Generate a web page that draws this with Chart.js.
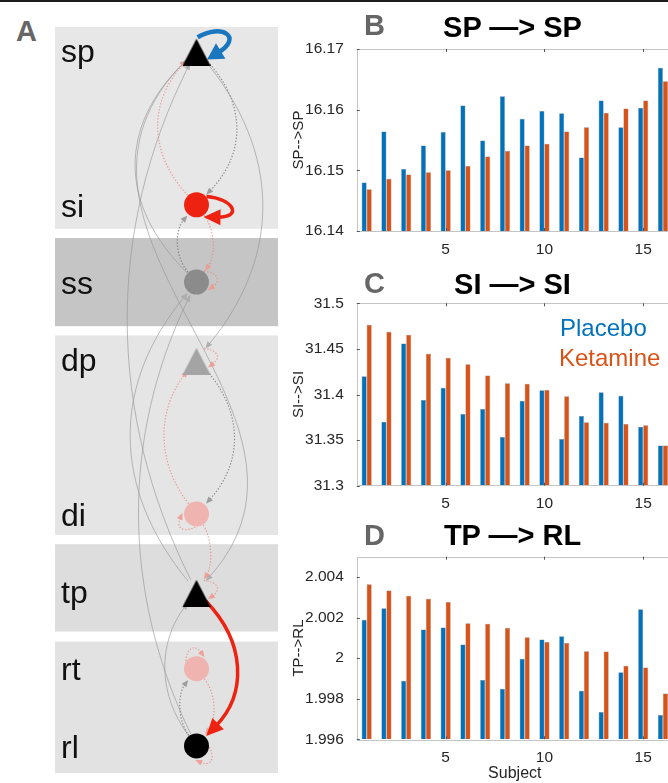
<!DOCTYPE html>
<html>
<head>
<meta charset="utf-8">
<script src="https://cdn.jsdelivr.net/npm/chart.js@4.4.0/dist/chart.umd.min.js"></script>
<style>
  html, body { margin: 0; padding: 0; }
  body {
    width: 668px; height: 783px; overflow: hidden; position: relative; background: #fff;
    font-family: 'Liberation Sans', Arial, Helvetica, sans-serif;
  }
  canvas { display: block; }
  .topRule { position: absolute; left: 0; top: 0; width: 668px; height: 2px; background: #1c1c1c; }
  .box { position: absolute; }
  .txt { position: absolute; line-height: 1; white-space: nowrap; }
  .letter { font-size: 29px; font-weight: bold; color: #666666; }
  .title { font-size: 29px; font-weight: bold; color: #000; transform: translateX(-50%); }
  .legend { font-size: 24px; }
</style>
</head>
<body>
<div class="topRule"></div>

<div class="box" style="left:55px;top:17px"><canvas id="diagram" width="223" height="760"></canvas></div>
<div class="box" style="left:290px;top:30px"><canvas id="chartSP" width="400" height="230"></canvas></div>
<div class="box" style="left:290px;top:285px"><canvas id="chartSI" width="400" height="230"></canvas></div>
<div class="box" style="left:290px;top:535px"><canvas id="chartTP" width="400" height="248"></canvas></div>

<div class="txt letter" style="left:16px;top:16.5px">A</div>
<div class="txt letter" style="left:364px;top:11.2px">B</div>
<div class="txt letter" style="left:364px;top:269.2px">C</div>
<div class="txt letter" style="left:364px;top:521.2px">D</div>
<div class="txt title" style="left:512.5px;top:13.2px">SP —&gt; SP</div>
<div class="txt title" style="left:512.5px;top:270.2px">SI —&gt; SI</div>
<div class="txt title" style="left:512.5px;top:521.2px">TP —&gt; RL</div>
<div class="txt legend" style="left:560px;top:316px;color:#0072BD">Placebo</div>
<div class="txt legend" style="left:559px;top:346px;color:#D95319">Ketamine</div>

<script>
// ---------- Panel A: the network ----------
const nodeNames = ['sp', 'si', 'ss', 'dp', 'di', 'tp', 'rt', 'rl']
const nodeLevel = [0, 2, 3, 4, 6, 7, 8, 9]
const nodeColors = ['#000000', '#ee2211', '#8b8b8b', '#a4a4a4', '#efb3b0', '#000000', '#efb3b0', '#000000']
const nodeShapes = ['triangle', 'circle', 'circle', 'triangle', 'circle', 'triangle', 'circle', 'circle']

// grey bands behind the layers (in level units)
const bandTop = [-0.3, 2.43, 3.69, 6.39, 7.65]
const bandBottom = [2.31, 3.57, 6.27, 7.52, 9.35]
const bandColors = ['#e7e7e7', '#c5c5c5', '#e5e5e5', '#dddddd', '#e2e2e2']

// connections. For self connections bendA = direction (deg) and bendB = loop size
const edgeFrom = ['sp', 'ss', 'tp', 'sp', 'tp', 'rl', 'rl',
  'sp', 'ss', 'dp', 'rl',
  'si', 'si', 'di', 'di', 'rt',
  'ss', 'dp', 'di', 'tp', 'rt', 'rl',
  'sp', 'si', 'tp']
const edgeTo = ['tp', 'sp', 'sp', 'dp', 'ss', 'ss', 'tp',
  'si', 'si', 'di', 'rt',
  'sp', 'ss', 'dp', 'tp', 'rl',
  'ss', 'dp', 'di', 'tp', 'rt', 'rl',
  'sp', 'si', 'rl']
const edgeBendA = [-184, -78, -90, 85, -85, -75, -39,
  50, -22, 47, -19,
  -48, 19, -40, 16, 20,
  10, 10, -140, 10, 100, -50,
  22, -10, 50]
const edgeBendB = [161, -78, -90, 85, -85, -75, -39,
  50, -22, 47, -19,
  -48, 19, -40, 16, 20,
  11, 11, 11, 11, 11, 11,
  30, 30, 50]
const edgeKind = ['solid', 'solid', 'solid', 'solid', 'solid', 'solid', 'solid',
  'dotGray', 'dotGray', 'dotGray', 'dotGray',
  'dotPink', 'dotPink', 'dotPink', 'dotPink', 'dotPink',
  'dotPink', 'dotPink', 'dotPink', 'dotPink', 'dotPink', 'dotPink',
  'blue', 'red', 'red']

// ---------- Panels B-D: bars per subject ----------
const subjects = ['1', '2', '3', '4', '5', '6', '7', '8', '9', '10', '11', '12', '13', '14', '15', '16']
const xTickValues = [5, 10, 15]

const spPlacebo = [16.1480, 16.1564, 16.1502, 16.1541, 16.1563, 16.1607, 16.1549, 16.1622,
  16.1585, 16.1598, 16.1594, 16.1521, 16.1615, 16.1571, 16.1603, 16.1669]
const spKetamine = [16.1469, 16.1486, 16.1493, 16.1497, 16.1500, 16.1507, 16.1523, 16.1532,
  16.1541, 16.1544, 16.1564, 16.1571, 16.1595, 16.1602, 16.1615, 16.1647]
const spTicks = [16.14, 16.15, 16.16, 16.17]

const siPlacebo = [31.420, 31.370, 31.456, 31.394, 31.4075, 31.3786, 31.3841, 31.3534,
  31.3932, 31.4046, 31.3512, 31.3764, 31.4024, 31.3987, 31.3647, 31.3442]
const siKetamine = [31.4766, 31.4689, 31.4656, 31.4448, 31.4404, 31.4331, 31.4207, 31.4122,
  31.4119, 31.4049, 31.398, 31.3695, 31.3691, 31.3676, 31.3662, 31.3442]
const siTicks = [31.3, 31.35, 31.4, 31.45, 31.5]

const tpPlacebo = [2.00189, 2.00246, 1.99889, 2.00141, 2.00151, 2.00067, 1.99892, 1.99849,
  1.99997, 2.00092, 2.00108, 1.99839, 1.99734, 1.99931, 2.00241, 1.99720]
const tpKetamine = [2.00364, 2.00334, 2.00307, 2.00293, 2.00277, 2.00172, 2.00169, 2.00149,
  2.00103, 2.00079, 2.00075, 2.00034, 2.00033, 1.99962, 1.99954, 1.99826]
const tpTicks = [1.996, 1.998, 2, 2.002, 2.004]

const fontFamily = "'Liberation Sans', Arial, Helvetica, sans-serif"
Chart.defaults.font.family = fontFamily
const textColor = '#262626'
const blue = '#0072BD'
const orange = '#D95319'

// ---------- diagram drawing ----------
const nodeR = 13

const edgeStyles = {
  solid: { color: 'rgba(150,150,150,0.65)', head: 'rgba(170,170,170,0.9)', width: 1, dash: [], len: 7, half: 3, spread: 43 },
  dotGray: { color: 'rgba(120,120,120,0.85)', head: 'rgba(150,150,150,0.9)', width: 1.2, dash: [1.3, 1.8], len: 7, half: 3, spread: 43 },
  dotPink: { color: 'rgba(238,125,115,0.75)', head: 'rgba(240,150,140,0.85)', width: 1.2, dash: [1.3, 1.8], len: 7, half: 3, spread: 45 },
  blue: { color: '#1a77bf', head: '#1a77bf', width: 4.5, dash: [], len: 16, half: 9, spread: 63 },
  red: { color: '#ee2211', head: '#ee2211', width: 3.5, dash: [], len: 17, half: 8, spread: 50 },
}

function triangleImage(color) {
  // a little empty room on top so the triangle sits 2px lower than the point
  const c = document.createElement('canvas')
  c.width = 28
  c.height = 31
  const g = c.getContext('2d')
  g.fillStyle = color
  g.beginPath()
  g.moveTo(14, 4)
  g.lineTo(28, 31)
  g.lineTo(0, 31)
  g.closePath()
  g.fill()
  return c
}

function unitTo(from, to) {
  const dx = to[0] - from[0]
  const dy = to[1] - from[1]
  const d = Math.hypot(dx, dy) || 1
  return [dx / d, dy / d]
}

function drawArrow(ctx, p0, c1, c2, tip, st) {
  const u = unitTo(c2, tip)
  const end = [tip[0] - u[0] * st.len * 0.8, tip[1] - u[1] * st.len * 0.8]
  ctx.strokeStyle = st.color
  ctx.lineWidth = st.width
  ctx.setLineDash(st.dash)
  ctx.beginPath()
  ctx.moveTo(p0[0], p0[1])
  ctx.bezierCurveTo(c1[0], c1[1], c2[0], c2[1], end[0], end[1])
  ctx.stroke()
  ctx.setLineDash([])
  // arrow head
  const bx = tip[0] - u[0] * st.len
  const by = tip[1] - u[1] * st.len
  ctx.fillStyle = st.head
  ctx.beginPath()
  ctx.moveTo(tip[0], tip[1])
  ctx.lineTo(bx - u[1] * st.half, by + u[0] * st.half)
  ctx.lineTo(bx + u[1] * st.half, by - u[0] * st.half)
  ctx.closePath()
  ctx.fill()
}

const diagramPlugin = {
  id: 'diagram',
  beforeDraw(chart) {
    const { ctx, chartArea: a, scales: { y } } = chart
    bandTop.forEach((t, i) => {
      const y0 = y.getPixelForValue(t)
      const y1 = y.getPixelForValue(bandBottom[i])
      ctx.fillStyle = bandColors[i]
      ctx.fillRect(a.left, y0, a.right - a.left, y1 - y0)
    })
  },
  beforeDatasetsDraw(chart) {
    const { ctx, scales: { x, y } } = chart
    const pos = (name) => {
      const i = nodeNames.indexOf(name)
      return [x.getPixelForValue(0), y.getPixelForValue(nodeLevel[i])]
    }
    ctx.save()
    edgeFrom.forEach((f, i) => {
      const st = edgeStyles[edgeKind[i]]
      const a = pos(f)
      const b = pos(edgeTo[i])
      if (f === edgeTo[i]) {
        // self connection loop
        const rad = Math.PI / 180
        const dir = edgeBendA[i] * rad
        const size = edgeBendB[i]
        const s = st.spread * rad
        const at = (ang, r) => [a[0] + Math.cos(ang) * r, a[1] - Math.sin(ang) * r]
        drawArrow(ctx, at(dir + s, nodeR), at(dir + s * 0.4, nodeR + size * 0.8),
          at(dir - s * 0.1, nodeR + size * 1.2), at(dir - s, nodeR + 1), st)
      } else {
        const dy = b[1] - a[1]
        const c1 = [a[0] + edgeBendA[i], a[1] + dy / 3]
        const c2 = [b[0] + edgeBendB[i], a[1] + (2 * dy) / 3]
        const u0 = unitTo(a, c1)
        const u1 = unitTo(b, c2)
        const p0 = [a[0] + u0[0] * nodeR, a[1] + u0[1] * nodeR]
        const tip = [b[0] + u1[0] * (nodeR + 1), b[1] + u1[1] * (nodeR + 1)]
        drawArrow(ctx, p0, c1, c2, tip, st)
      }
    })
    ctx.restore()
  },
}

new Chart(document.getElementById('diagram'), {
  type: 'scatter',
  data: {
    datasets: [
      {
        data: nodeLevel.map((l) => ({ x: 0, y: l })),
        pointStyle: nodeShapes.map((s, i) => (s === 'triangle' ? triangleImage(nodeColors[i]) : 'circle')),
        pointBackgroundColor: nodeColors,
        pointBorderWidth: 0,
        pointRadius: 12.5,
        clip: false,
      },
    ],
  },
  options: {
    responsive: false,
    animation: false,
    events: [],
    layout: { padding: { top: 10, bottom: 4, left: 0, right: 0 }, autoPadding: false },
    plugins: { legend: { display: false }, tooltip: { enabled: false } },
    scales: {
      x: { type: 'linear', min: -141.5, max: 81.5, display: false },
      y: {
        type: 'linear',
        reverse: true,
        min: -0.3,
        max: 9.35,
        grid: { display: false },
        border: { display: false },
        afterBuildTicks: (s) => {
          s.ticks = nodeLevel.map((v) => ({ value: v }))
        },
        ticks: {
          mirror: true,
          padding: 6,
          labelOffset: 3,
          color: '#111111',
          font: { size: 32, weight: '300' },
          callback: (v, i) => nodeNames[i],
        },
        afterFit: (s) => {
          s.width = 0
          s.paddingTop = 0
          s.paddingBottom = 0
        },
      },
    },
  },
  plugins: [diagramPlugin],
})

// ---------- bar charts ----------
// box + inward ticks, like the matlab axes
const matlabAxes = {
  id: 'matlabAxes',
  afterDatasetsDraw(chart) {
    const { ctx, chartArea: a, scales: { x, y } } = chart
    ctx.save()
    ctx.lineWidth = 1
    ctx.strokeStyle = '#c4c4c4'
    ctx.strokeRect(Math.round(a.left) + 0.5, Math.round(a.top) + 0.5,
      Math.round(a.right - a.left), Math.round(a.bottom - a.top))
    ctx.strokeStyle = '#555555'
    ctx.beginPath()
    y.ticks.forEach((t) => {
      const py = Math.round(y.getPixelForValue(t.value)) + 0.5
      ctx.moveTo(a.left, py)
      ctx.lineTo(a.left + 3, py)
    })
    xTickValues.forEach((v) => {
      const px = Math.round(x.getPixelForValue(v - 1)) + 0.5
      ctx.moveTo(px, a.bottom)
      ctx.lineTo(px, a.bottom - 3)
      ctx.moveTo(px, a.top)
      ctx.lineTo(px, a.top + 3)
    })
    ctx.stroke()
    ctx.restore()
  },
}

function barChart(id, placebo, ketamine, yMin, yMax, yTicks, yTitle, padTop, padBottom, xHeight, xTitle) {
  const barStyle = {
    base: yMin,
    categoryPercentage: 0.51,
    barPercentage: 1,
    borderWidth: 0.5,
    borderColor: 'rgba(35,35,35,0.55)',
  }
  return new Chart(document.getElementById(id), {
    type: 'bar',
    data: {
      labels: subjects,
      datasets: [
        { label: 'Placebo', data: placebo, backgroundColor: blue, ...barStyle },
        { label: 'Ketamine', data: ketamine, backgroundColor: orange, ...barStyle },
      ],
    },
    options: {
      responsive: false,
      animation: false,
      events: [],
      layout: { padding: { top: padTop, bottom: padBottom, left: 0, right: 17.2 } },
      plugins: { legend: { display: false }, tooltip: { enabled: false } },
      scales: {
        x: {
          grid: { display: false },
          border: { display: false },
          ticks: {
            autoSkip: false,
            maxRotation: 0,
            padding: 1,
            color: textColor,
            font: { size: 15.5 },
            callback: (v, i) => (xTickValues.includes(i + 1) ? subjects[i] : ''),
          },
          title: { display: !!xTitle, text: xTitle, padding: 0, color: textColor, font: { size: 16 } },
          afterFit: (s) => {
            s.height = xHeight
            s.paddingLeft = 0
            s.paddingRight = 0
          },
        },
        y: {
          min: yMin,
          max: yMax,
          grid: { display: false },
          border: { display: false },
          afterBuildTicks: (s) => {
            s.ticks = yTicks.map((v) => ({ value: v }))
          },
          ticks: { padding: 5, color: textColor, font: { size: 15.5 }, callback: (v) => String(v) },
          title: { display: true, text: yTitle, padding: 0, color: textColor, font: { size: 15 } },
          afterFit: (s) => {
            s.width = 66.8
            s.paddingTop = 0
            s.paddingBottom = 0
          },
        },
      },
    },
    plugins: [matlabAxes],
  })
}

barChart('chartSP', spPlacebo, spKetamine, 16.14, 16.17, spTicks, 'SP-->SP', 19, 4, 25, '')
barChart('chartSI', siPlacebo, siKetamine, 31.3, 31.5, siTicks, 'SI-->SI', 18.3, 4.3, 25, '')
barChart('chartTP', tpPlacebo, tpKetamine, 1.996, 2.005, tpTicks, 'TP-->RL', 21.7, 0, 43.7, 'Subject')
</script>
</body>
</html>
